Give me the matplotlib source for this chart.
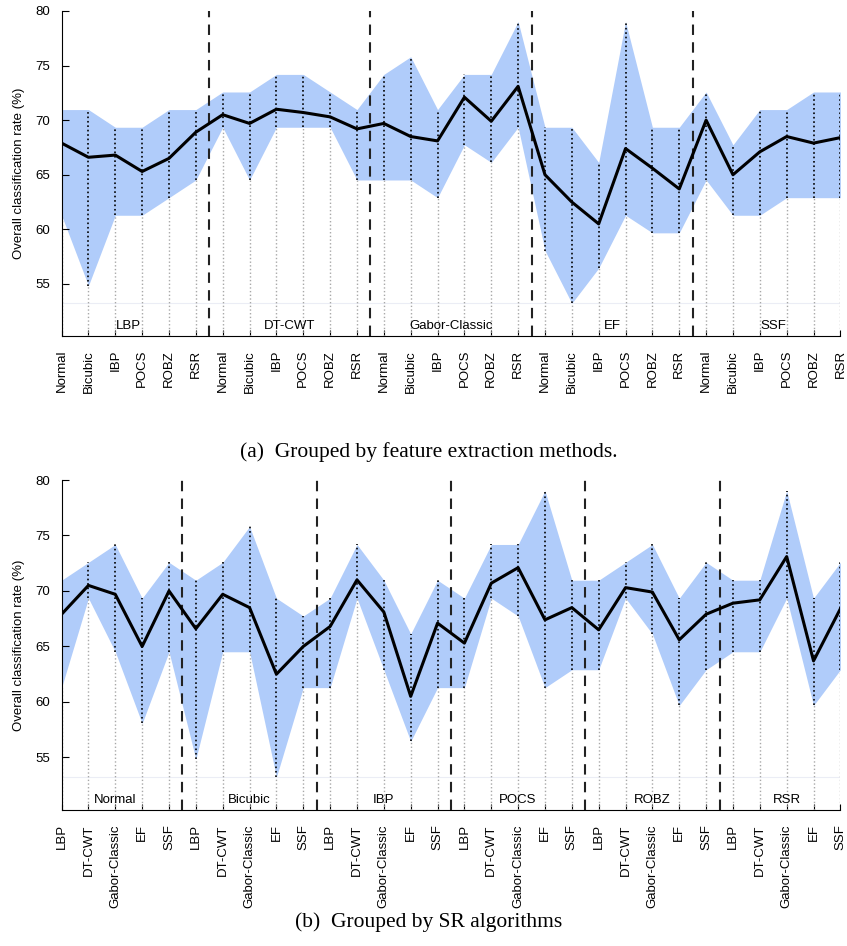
import numpy as np
import matplotlib
matplotlib.use("Agg")
from matplotlib import pyplot as plt

plt.rcParams['font.family'] = ['Liberation Sans', 'DejaVu Sans']

features = ['LBP', 'DT-CWT', 'Gabor-Classic', 'EF', 'SSF']
sr_algos = ['Normal', 'Bicubic', 'IBP', 'POCS', 'ROBZ', 'RSR']

# rows = feature extraction method, cols = SR algorithm
mean_rate = np.array([
    [67.9, 66.6, 66.8, 65.3, 66.5, 68.9],
    [70.5, 69.7, 71.0, 70.7, 70.3, 69.2],
    [69.7, 68.5, 68.1, 72.1, 69.9, 73.1],
    [65.0, 62.5, 60.5, 67.4, 65.6, 63.7],
    [70.0, 65.0, 67.1, 68.5, 67.9, 68.4],
])
max_rate = np.array([
    [70.97, 70.97, 69.35, 69.35, 70.97, 70.97],
    [72.58, 72.58, 74.19, 74.19, 72.58, 70.97],
    [74.19, 75.81, 70.97, 74.19, 74.19, 79.03],
    [69.35, 69.35, 66.13, 79.03, 69.35, 69.35],
    [72.58, 67.74, 70.97, 70.97, 72.58, 72.58],
])
min_rate = np.array([
    [61.29, 54.84, 61.29, 61.29, 62.90, 64.52],
    [69.35, 64.52, 69.35, 69.35, 69.35, 64.52],
    [64.52, 64.52, 62.90, 67.74, 66.13, 69.35],
    [58.06, 53.23, 56.45, 61.29, 59.68, 59.68],
    [64.52, 61.29, 61.29, 62.90, 62.90, 62.90],
])

Y_BOTTOM = min_rate.min() - 3
BAND = '#b0ccfa'


def draw_panel(ax, mean, lo, hi, ticklabels, groups):
    n = len(mean)
    gsize = n // len(groups)
    x = np.arange(n)
    ax.fill_between(x, lo, hi, color=BAND, lw=0, zorder=1)
    ax.axhline(min_rate.min(), color='#ebedf5', lw=0.8, zorder=0)
    ax.vlines(x, Y_BOTTOM, lo, colors='#a8a8a8', linestyles=':', lw=1.0, zorder=2)
    ax.vlines(x, lo, hi, colors='black', linestyles=':', lw=1.2, zorder=3)
    for g in range(1, len(groups)):
        ax.axvline(g * gsize - 0.5, color='#222222', lw=1.5,
                   linestyle=(0, (5, 3.5)), zorder=4)
    ax.plot(x, mean, color='black', lw=2.2, zorder=5)
    for g, name in enumerate(groups):
        ax.text(g * gsize + (gsize - 1) / 2, 51.15, name, ha='center', va='center',
                fontsize=9.5, zorder=6)

    ax.set_xlim(0, n - 1)
    ax.set_ylim(Y_BOTTOM, 80)
    ax.set_xticks(x)
    ax.set_xticklabels(ticklabels, rotation=90, fontsize=9.5)
    ax.set_yticks([55, 60, 65, 70, 75, 80])
    ax.tick_params(axis='y', direction='in', length=5, labelsize=9.5, pad=8)
    ax.tick_params(axis='x', direction='in', length=4, pad=10)
    ax.spines['top'].set_visible(False)
    ax.spines['right'].set_visible(False)
    ax.set_ylabel('Overall classification rate (%)', fontsize=9.5, labelpad=8)


fig = plt.figure(figsize=(8.47, 9.46), dpi=100)

# (a) grouped by feature extraction method
ax_a = fig.add_axes([0.0727, 0.6448, 0.9195, 0.3436])
draw_panel(ax_a, mean_rate.ravel(), min_rate.ravel(), max_rate.ravel(),
           sr_algos * len(features), features)

# (b) grouped by SR algorithm
ax_b = fig.add_axes([0.0727, 0.1434, 0.9195, 0.3492])
draw_panel(ax_b, mean_rate.T.ravel(), min_rate.T.ravel(), max_rate.T.ravel(),
           features * len(sr_algos), sr_algos)

fig.text(0.5065, 1 - 451.7 / 946, '(a)  Grouped by feature extraction methods.',
         ha='center', va='center', fontsize=15.5, family='Liberation Serif')
fig.text(0.5065, 1 - 921.7 / 946, '(b)  Grouped by SR algorithms',
         ha='center', va='center', fontsize=15.5, family='Liberation Serif')

fig.savefig('out.png', dpi=100)
